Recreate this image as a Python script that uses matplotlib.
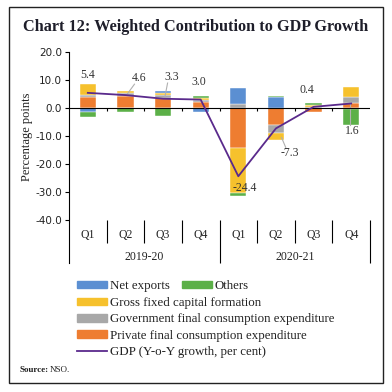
import numpy as np
import matplotlib
matplotlib.use('Agg')
import matplotlib.pyplot as plt
from matplotlib.patches import Patch, Rectangle
from matplotlib.lines import Line2D

# ── data ─────────────────────────────────────────────────────
quarters = ['Q1', 'Q2', 'Q3', 'Q4', 'Q1', 'Q2', 'Q3', 'Q4']
years = ['2019-20', '2020-21']
pfce = [4.0, 4.3, 3.5, 2.0, -14.4, -6.1, -1.5, 1.7]
gfce = [0.6, 1.2, 1.1, 0.9, 1.4, -3.0, 0.3, 2.3]
gfcf = [4.0, 0.7, 0.7, 0.6, -16.1, -2.5, 0.8, 3.6]
net_exports = [-1.3, -0.1, 0.8, -1.3, 5.6, 4.0, 0.0, -0.3]
others = [-1.9, -1.5, -2.8, 0.8, -0.9, 0.3, 0.8, -5.7]
gdp = [5.4, 4.6, 3.3, 3.0, -24.4, -7.3, 0.4, 1.6]
gdp_labels = ['5.4', '4.6', '3.3', '3.0', '-24.4', '-7.3', '0.4', '1.6']

series = [('Private final consumption expenditure', pfce, '#ee7d31'),
          ('Government final consumption expenditure', gfce, '#a8a8a8'),
          ('Gross fixed capital formation', gfcf, '#f6c12d'),
          ('Net exports', net_exports, '#5b8fd2'),
          ('Others', others, '#5cb048')]
LINE_C = '#5a2a8c'
SERIF = 'Liberation Serif'
SANS = 'DejaVu Sans'

fig = plt.figure(figsize=(3.92, 3.92), dpi=100)
fig.patch.set_facecolor('white')
ax = fig.add_axes([69/392, 1-263/392, 301/392, 211/392])

x = np.arange(len(quarters))
pos_base = np.zeros(len(x))
neg_base = np.zeros(len(x))
for name, vals, c in series:
    v = np.array(vals)
    base = np.where(v >= 0, pos_base, neg_base)
    ax.bar(x, v, bottom=base, width=0.43, color=c, edgecolor='white',
           linewidth=0.3, zorder=2)
    pos_base += np.where(v >= 0, v, 0)
    neg_base += np.where(v < 0, v, 0)

ax.plot(x, gdp, color=LINE_C, lw=1.3, zorder=4)

# labels for GDP line, with light leader lines where the label sits aside
lbl_pos = [(0.0, 11.8), (1.36, 10.7), (2.24, 11.1), (2.96, 9.3),
           (4.18, -28.6), (5.38, -16.1), (5.83, 6.4), (7.03, -8.2)]
leader_lines = {1: ((1.05, 1.24), (5.0, 8.5)),
                2: ((2.05, 2.12), (4.0, 8.9)),
                5: ((5.15, 5.26), (-10.6, -14.1)),
                7: ((6.98, 6.98), (1.8, -6.0))}
for i, (lx, ly) in enumerate(lbl_pos):
    ax.text(lx, ly, gdp_labels[i], ha='center', va='center', fontsize=8.5,
            family=SERIF, color='#333333', zorder=5)
for i, (xs, ys) in leader_lines.items():
    ax.plot(xs, ys, color='#b0b0b0', lw=0.8, zorder=3)

# axes styling
ax.set_xlim(-0.5, 7.5)
ax.set_ylim(-55.4, 20)
ax.set_yticks(np.arange(-40, 21, 10))
ax.set_yticklabels([f'{t:.1f}' for t in np.arange(-40, 21, 10)],
                   family=SANS, fontsize=7.5, color='#222222')
ax.tick_params(axis='y', length=3, width=0.8, pad=2)
ax.set_xticks([])
for s in ['top', 'right', 'bottom']:
    ax.spines[s].set_visible(False)
ax.spines['left'].set_linewidth(0.8)
ax.axhline(0, color='black', lw=0.8, zorder=3)
ax.vlines(np.arange(0.5, 7.5, 1), -1.1, 0, color='black', lw=0.8)
ax.set_ylabel('Percentage points', family=SERIF, fontsize=9, color='#222222')
ax.yaxis.set_label_coords(-0.12, 0.60)

# category axis below the plot
for xi, q in zip(x, quarters):
    ax.text(xi, -45.4, q, ha='center', va='center', family=SERIF, fontsize=8.5,
            color='#222222', clip_on=False)
ax.text(1.5, -53.2, years[0], ha='center', va='center', family=SERIF,
        fontsize=8.5, color='#222222')
ax.text(5.5, -53.2, years[1], ha='center', va='center', family=SERIF,
        fontsize=8.5, color='#222222')
short = [0.5, 1.5, 2.5, 4.5, 5.5, 6.5]
ax.vlines(short, -48.2, -40, color='black', lw=0.8, clip_on=False)
ax.vlines([3.5, 7.5], -55.4, -40, color='black', lw=0.8, clip_on=False)

# title and frame
fig.text(196/392, 1-27/392, 'Chart 12: Weighted Contribution to GDP Growth',
         ha='center', va='center', family=SERIF, fontweight='bold',
         fontsize=11.7, color='#1e1e2a')
fig.add_artist(Rectangle((9/392, 1-383/392), 374/392, 376/392,
                         transform=fig.transFigure, fill=False,
                         edgecolor='#222222', lw=1.0))

# legend
h = dict((n, c) for n, _, c in series)
leg_kw = dict(frameon=False, handlelength=2.3, handleheight=0.55,
              handletextpad=0.22, borderpad=0, borderaxespad=0,
              prop={'family': SERIF, 'size': 9.3})
leg1 = fig.legend(handles=[Patch(color=h['Net exports'], label='Net exports'),
                           Patch(color=h['Others'], label='Others')],
                  loc='upper left', bbox_to_anchor=(77/392, 1-280/392), ncol=2,
                  columnspacing=1.0, **leg_kw)
rest = ['Gross fixed capital formation', 'Government final consumption expenditure',
        'Private final consumption expenditure']
handles = [Patch(color=h[n], label=n) for n in rest]
handles.append(Line2D([], [], color=LINE_C, lw=1.3, label='GDP (Y-o-Y growth, per cent)'))
leg2 = fig.legend(handles=handles, loc='upper left',
                  bbox_to_anchor=(77/392, 1-297/392), labelspacing=0.34, **leg_kw)
for lg in (leg1, leg2):
    for t in lg.get_texts():
        t.set_color('#222222')

fig.text(20/392, 1-370/392, 'Source:', family=SERIF, fontweight='bold',
         fontsize=6.5, va='center', color='#222222')
fig.text(50/392, 1-370/392, 'NSO.', family=SERIF, fontsize=6.5, va='center',
         color='#222222')

plt.savefig('out.png', dpi=100)
plt.close()
